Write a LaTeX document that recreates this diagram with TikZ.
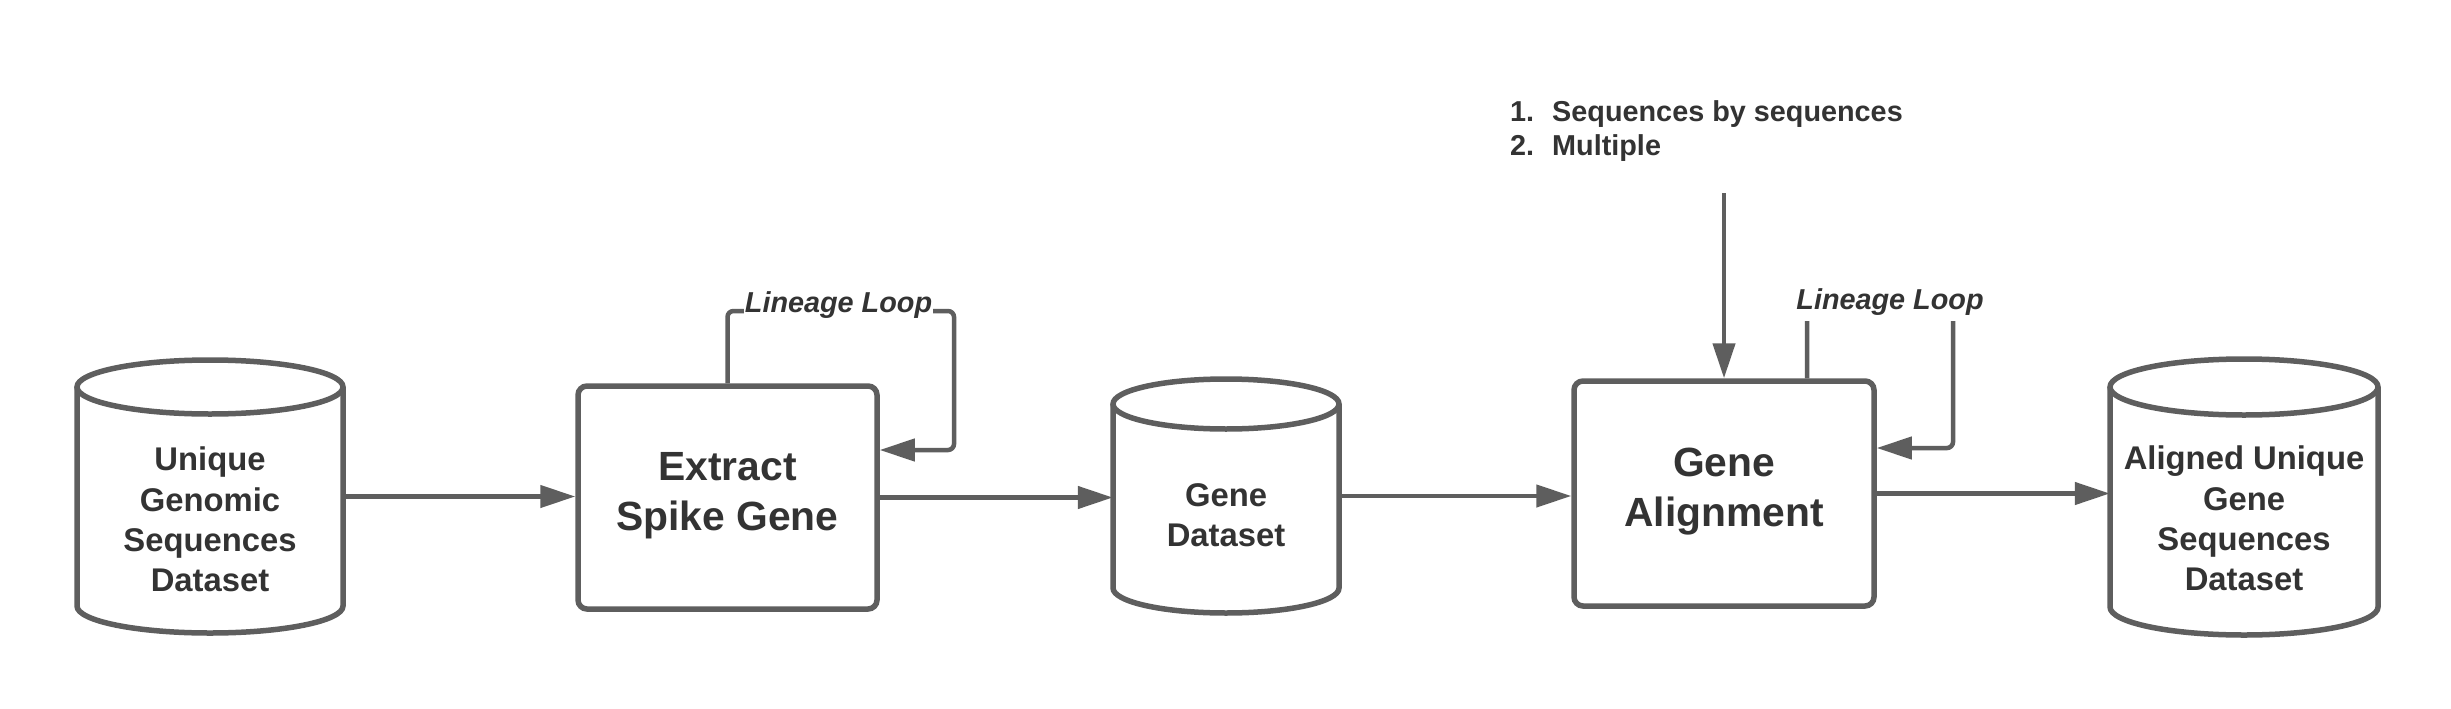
\documentclass[tikz,border=0pt]{standalone}
\usepackage{fontspec}
\setmainfont{Liberation Sans}
\usetikzlibrary{arrows.meta,calc}
\definecolor{linegray}{HTML}{5E5E5E}
\definecolor{textgray}{HTML}{333333}
\tikzset{
  procbox/.style={draw=linegray, line width=5.5pt, rounded corners=9pt, inner sep=0pt, fill=white},
  cylbody/.style={draw=none, inner sep=0pt},
  cylline/.style={draw=linegray, line width=5.5pt},
  conn/.style={draw=linegray, line width=4.5pt, -{Triangle[length=35pt,width=22pt]}},
  celltext/.style={text=textgray, align=center, inner sep=0pt, font=\fontsize{32.8pt}{40.3pt}\selectfont\bfseries},
  boxtext/.style={text=textgray, align=center, inner sep=0pt, font=\fontsize{40.8pt}{50pt}\selectfont\bfseries},
  looplabel/.style={text=textgray, fill=white, inner xsep=1pt, inner ysep=6pt, font=\fontsize{28.8pt}{34pt}\selectfont\bfseries\itshape},
  listtext/.style={text=textgray, inner sep=0pt, anchor=base west, font=\fontsize{28.8pt}{34pt}\selectfont\bfseries}
}
\begin{document}
\begin{tikzpicture}[x=1pt,y=-1pt]
\useasboundingbox (0,0) rectangle (2451,709);
\fill[white] (0,0) rectangle (2451,709);

% cylinder 1
\node[cylbody, minimum width=266pt, minimum height=273pt] (c1) at (210,496.5) {};
\draw[cylline] (77,387) -- (77,606) arc[start angle=180, end angle=0, x radius=133, y radius=27] -- (343,387);
\draw[cylline] (210,387) ellipse [x radius=133, y radius=27];
\node[celltext] (t1) at ($(c1.center)+(0,23)$) {Unique\\Genomic\\Sequences\\Dataset};

% cylinder 2
\node[cylbody, minimum width=226pt, minimum height=234pt] (c2) at (1226,496) {};
\draw[cylline] (1113,404) -- (1113,588) arc[start angle=180, end angle=0, x radius=113, y radius=25] -- (1339,404);
\draw[cylline] (1226,404) ellipse [x radius=113, y radius=25];
\node[celltext] (t2) at ($(c2.center)+(0,19)$) {Gene\\Dataset};

% cylinder 3
\node[cylbody, minimum width=268pt, minimum height=276pt] (c3) at (2244,497) {};
\draw[cylline] (2110,387) -- (2110,607) arc[start angle=180, end angle=0, x radius=134, y radius=28] -- (2378,387);
\draw[cylline] (2244,387) ellipse [x radius=134, y radius=28];
\node[celltext] (t3) at ($(c3.center)+(0,21.5)$) {Aligned Unique\\Gene\\Sequences\\Dataset};

% process boxes
\node[procbox, minimum width=299pt, minimum height=223pt] (b1) at (727.5,497.5) {};
\node[boxtext] (tb1) at ($(b1.center)+(0,-2)$) {Extract\\Spike Gene};
\node[procbox, minimum width=300pt, minimum height=225pt] (b2) at (1724,493.5) {};
\node[boxtext] (tb2) at ($(b2.center)+(0,-1.5)$) {Gene\\Alignment};

% main flow
\draw[conn] (c1.east) -- (c1.east -| b1.west);
\draw[conn] (b1.east) -- (b1.east -| c2.west);
\draw[conn] (c2.east) -- (c2.east -| b2.west);
\draw[conn] (b2.east) -- (b2.east -| c3.west);

% loop 1
\coordinate (l1a) at (727.5,311);
\coordinate (l1b) at (954,311);
\coordinate (l1c) at (954,450);
\draw[conn, rounded corners=6pt] (b1.north) -- (l1a) -- (l1b) -- (l1c) -- (l1c -| b1.east);
\node[looplabel, anchor=base] (lab1) at (838.5,312) {Lineage Loop};

% loop 2
\coordinate (l2a) at (1807,300);
\coordinate (l2b) at (1953,300);
\coordinate (l2c) at (1953,448);
\draw[conn, rounded corners=6pt] (l2a |- b2.north) -- (l2a) -- (l2b) -- (l2c) -- (l2c -| b2.east);
\node[looplabel, anchor=base] (lab2) at (1890,309) {Lineage Loop};

% input arrow
\coordinate (inp) at (1724,193);
\draw[conn] (inp) -- (b2.north);

% list
\node[listtext] (li1) at (1510,121) {\makebox[42pt][l]{1.}Sequences by sequences};
\node[listtext] (li2) at (1510,155) {\makebox[42pt][l]{2.}Multiple};
\end{tikzpicture}
\end{document}
